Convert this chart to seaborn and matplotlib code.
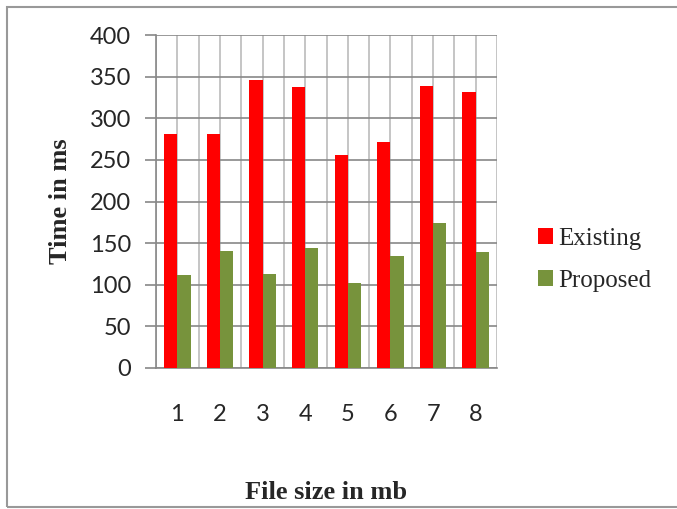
import pandas as pd
import numpy as np
import matplotlib.pyplot as plt
import seaborn as sns
from matplotlib.patches import Rectangle

# 数据
file_sizes = ['1', '2', '3', '4', '5', '6', '7', '8']
existing = [281, 281, 346, 338, 256, 272, 339, 332]
proposed = [112, 141, 113, 144, 102, 135, 174, 139]
series_names = ['Existing', 'Proposed']
colors = ['#FF0000', '#77933C']
y_ticks = [0, 50, 100, 150, 200, 250, 300, 350, 400]

df = pd.DataFrame({
    'size': file_sizes * 2,
    'time': existing + proposed,
    'series': [series_names[0]] * len(file_sizes) + [series_names[1]] * len(file_sizes),
})

sns.set_style('white')
plt.rcParams['font.family'] = ['Lato', 'DejaVu Sans']

fig = plt.figure(figsize=(6.77, 5.09), dpi=100)
ax = fig.add_axes([156 / 677, 1 - 368 / 509, (497 - 156) / 677, (368 - 35) / 509])

sns.barplot(data=df, x='size', y='time', hue='series', palette=colors,
            width=0.62, gap=0, saturation=1, linewidth=0, ax=ax, zorder=3)

# 网格线
ax.set_ylim(0, 400)
ax.set_yticks(y_ticks)
ax.set_xlim(-0.5, len(file_sizes) - 0.5)
ax.set_xticks(np.arange(-0.5, len(file_sizes), 1.0), minor=True)
ax.grid(axis='y', which='major', color='#888888', linewidth=1.2, zorder=0)
ax.grid(axis='x', which='both', color='#BBBBBB', linewidth=1.2, zorder=0)
ax.set_axisbelow(True)

for side in ['top', 'right']:
    ax.spines[side].set_visible(False)
for side in ['left', 'bottom']:
    ax.spines[side].set_color('#888888')
    ax.spines[side].set_linewidth(1.2)

ax.tick_params(axis='y', which='major', length=8, color='#888888', width=1.2,
               labelsize=17, pad=10, left=True)
ax.tick_params(axis='x', which='both', length=0, labelsize=17, pad=26)

ax.set_xlabel('File size in mb', family='Liberation Serif', fontweight='bold',
              fontsize=19, labelpad=40)
ax.set_ylabel('Time in ms', family='Liberation Serif', fontweight='bold',
              fontsize=19, labelpad=13)

leg = ax.legend(loc='center left', bbox_to_anchor=(1.12, 0.325), frameon=False,
                prop={'family': 'Liberation Serif', 'size': 18},
                handlelength=0.6, handleheight=0.6, handletextpad=0.2,
                labelspacing=0.8, borderpad=0, borderaxespad=0)

# 外框
fig.patches.append(Rectangle((7 / 677, 2 / 509), 700 / 677, 500 / 509,
                             transform=fig.transFigure, fill=False,
                             edgecolor='#999999', linewidth=1.5))

fig.savefig('out.png', dpi=100)
